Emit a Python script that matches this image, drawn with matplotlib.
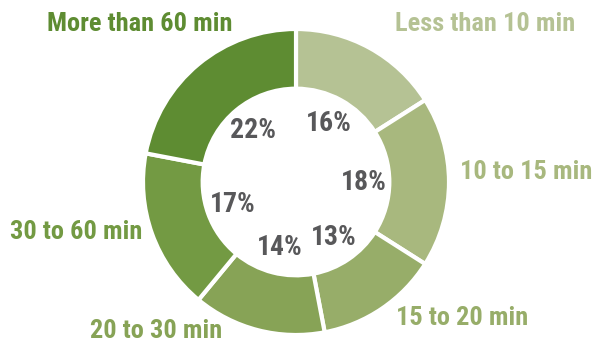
import matplotlib
matplotlib.use("Agg")
import matplotlib.pyplot as plt

# commute time share, clockwise from the top
categories = ["Less than 10 min", "10 to 15 min", "15 to 20 min",
              "20 to 30 min", "30 to 60 min", "More than 60 min"]
shares = [16, 18, 13, 14, 17, 22]
colors = ["#b5c294", "#a8b87e", "#97ad69", "#87a356", "#739a43", "#5e8c32"]

# outer label positions (data units, radius 1 = outer ring)
label_pos = [(1.235, 1.033), (1.503, 0.065), (1.085, -0.889),
             (-0.915, -0.974), (-1.438, -0.327), (-1.02, 1.033)]

FONT = ["Roboto Condensed", "DejaVu Sans"]

fig = plt.figure(figsize=(5.92, 3.45), dpi=100)
ax = fig.add_axes([0, 0, 1, 1])

wedges, _, autotexts = ax.pie(
    shares, colors=colors, startangle=90, counterclock=False, radius=1,
    autopct=lambda p: f"{p:.0f}%", pctdistance=0.44,
    wedgeprops=dict(width=0.39, edgecolor="white", linewidth=3),
)
for t in autotexts:
    t.set_color("#58585a")
    t.set_fontsize(20)
    t.set_fontweight("bold")
    t.set_family(FONT)

for name, col, (x, y) in zip(categories, colors, label_pos):
    ax.text(x, y, name, color=col, fontsize=19, fontweight="bold",
            family=FONT, ha="center", va="center")

r = 153.0
ax.set_xlim(-296 / r, 296 / r)
ax.set_ylim(-163 / r, 182 / r)
ax.set_aspect("equal", adjustable="box")
ax.axis("off")

fig.savefig("out.png", dpi=100, facecolor="white")
